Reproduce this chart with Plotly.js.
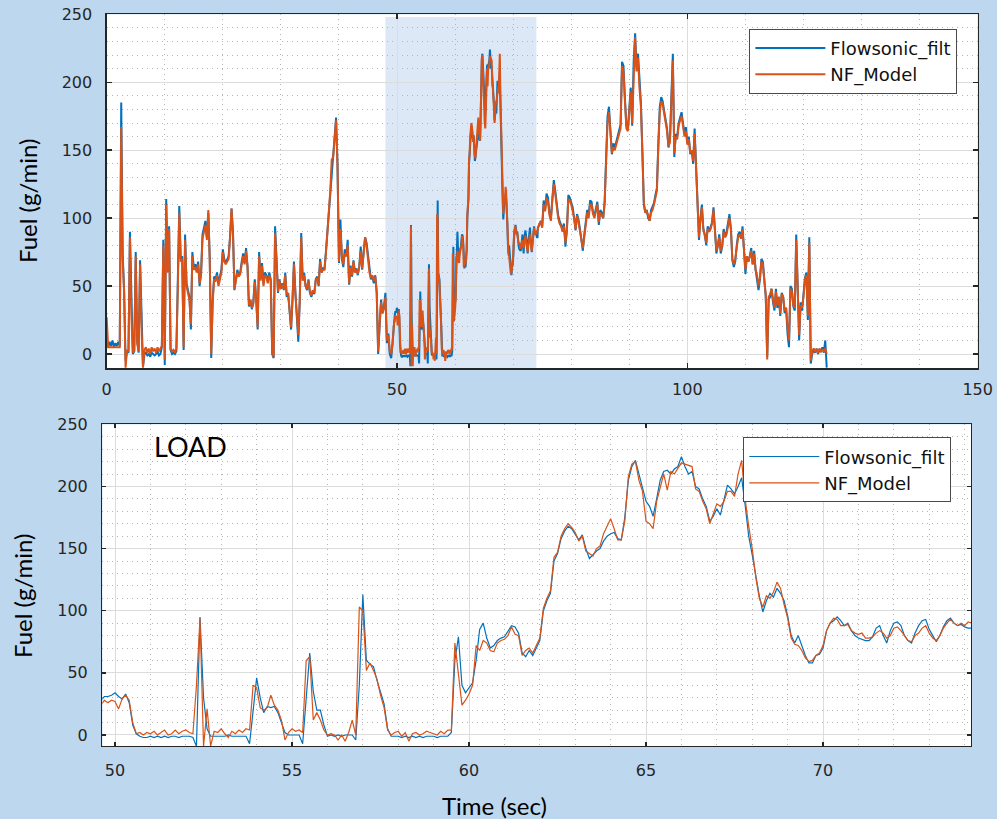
<!DOCTYPE html>
<html>
<head>
<meta charset="utf-8">
<script src="https://cdn.plot.ly/plotly-3.0.1.min.js"></script>
<style>
  html, body { margin: 0; padding: 0; background: #BDD7EE; }
  #chart { width: 997px; height: 819px; }
</style>
</head>
<body>
<div id="chart"></div>
<script>
// Sample clock of each recorded segment (seconds)
const earlyStart = 0, earlyStep = 0.25;
const loadStart = 49.6, loadStep = 0.1;
const lateStart = 74.25, lateStep = 0.25;

// Fuel flow from the Flowsonic meter (filtered), g/min
const flowEarly = [
  8, 5, 9, 6,  10, 5, 8, 6,  9, 6, 185, 74,  47, -5, 2, 1,  90, 30, 0, 2,
  75, 10, 1, 69,  20, -9, 0, 1,  -1, 0, -2, 1,  0, -1, 0, 2,  -1, 0, 5, 84,
  -8, 114, 62, 94,  3, 0, 1, 0,  2, 50, 109, 70,  72, 3, 88, 52,  47, 42, 18, 75,
  64, 66, 62, 68,  50, 60, 88, 92,  98, 86, 104, 70,  -3, 40, 57, 55,  60, 52, 57, 62,
  77, 70, 67, 69,  72, 87, 107, 90,  47, 55, 62, 58,  60, 68, 74, 67,  78, 65, 35, 40,
  33, 38, 55, 40,  18, 75, 55, 67,  52, 60, 58, 53,  60, 55, 0, -3,  94, 70, 45, 55,
  48, 52, 47, 60,  42, 45, 30, 18,  40, 68, 45, 30,  9, 40, 89, 55,  60, 50, 47, 55,
  45, 42, 47, 44,  55, 57, 50, 70,  60, 63, 62, 75,  89, 110, 118, 138,  145, 160, 174, 140,
  67, 99, 70, 64,  77, 72, 84, 51,  65, 57, 69, 60,  63, 58, 65, 79,  62, 75, 86, 82,
  72, 60, 55, 57,  52, 58, 45, 0,  20, 40, 30, 35,  45, 8, 15, 0,  -3, 10, 28
];
const flowLoad = [
  28, 31, 31, 32, 34, 31, 29, 33, 26, 8,
  1, -1, -2, -2, -1, -2, -1, -2, -1, -2,
  -1, -1, -2, -1, -1, -1, -2, -9, 95, 30,
  5, -1, -1, -1, -1, -1, 0, -1, -1, -1,
  -1, -1, -7, 20, 46, 30, 18, 23, 22, 23,
  18, 10, 2, 0, 0, 0, 0, -7, 30, 66,
  35, 20, 20, 8, -1, 0, -1, 0, -1, 0,
  0, 0, -4, 40, 113, 60, 57, 55, 44, 34,
  25, 5, -1, -1, -1, -2, -1, -2, -1, -2,
  -1, -2, -1, -1, -1, -2, -1, -1, -1, 2,
  60, 79, 40, 34, 38, 42, 60, 85, 90, 78,
  70, 72, 76, 78, 79, 84, 88, 87, 82, 66,
  63, 68, 64, 70, 76, 100, 108, 114, 140, 146,
  158, 164, 168, 166, 162, 157, 161, 150, 142, 145,
  148, 150, 156, 160, 162, 163, 158, 157, 175, 205,
  216, 221, 210, 200, 188, 184, 176, 190, 205, 212,
  213, 210, 214, 216, 224, 216, 210, 212, 200, 198,
  190, 184, 172, 176, 182, 177, 190, 201, 198, 194,
  200, 207, 185, 160, 145, 128, 112, 99, 108, 114,
  111, 118, 114, 108, 96, 80, 74, 80, 72, 64,
  58, 58, 64, 65, 70, 84, 90, 92, 95, 92,
  88, 90, 84, 80, 78, 77, 76, 76, 79, 86,
  88, 80, 74, 84, 90, 91, 88, 80, 76, 74,
  82, 88, 92, 93, 85, 80, 75, 80, 87, 92,
  94, 90, 88, 89, 87, 86, 86
];
const flowLate = [
  93, 95, 98, 94,  113, 106, 118, 115,  104, 100, 116, 128,  120, 110, 102, 98,  95, 92, 96, 79,
  92, 117, 115, 112,  108, 100, 91, 103,  99, 92, 84, 76,  88, 99, 106, 102,  113, 112, 104, 102,
  108, 112, 95, 106,  104, 100, 112, 150,  175, 182, 166, 147,  155, 152, 156, 161,  165, 169, 215, 212,
  188, 168, 165, 182,  196, 168, 215, 236,  210, 221, 198, 185,  150, 110, 104, 106,  100, 98, 106, 108,
  111, 117, 122, 155,  182, 189, 186, 179,  172, 166, 152, 158,  190, 221, 145, 162,  160, 170, 174, 178,
  170, 162, 167, 155,  160, 147, 150, 140,  166, 140, 103, 84,  100, 110, 92, 88,  80, 94, 90, 94,
  97, 108, 86, 74,  80, 88, 74, 79,  92, 86, 90, 96,  103, 92, 69, 64,  68, 80, 88, 90,
  85, 94, 80, 59,  72, 68, 72, 78,  66, 76, 62, 56,  47, 55, 70, 68,  52, 42, -2, 40,
  42, 48, 38, 32,  48, 34, 42, 28,  45, 42, 30, 34,  15, 5, 50, 48,  35, 32, 88, 45,
  10, 38, 32, 44,  56, 60, 25, 86,  -7, 0, 3, 1,  4, 0, 3, 2,  5, 1, 10, -10
];

// Fuel flow predicted by the NF model, g/min
const modelEarly = [
  27, 5, 5, 5,  5, 5, 5, 5,  5, 5, 167, 70,  45, -10, 3, 2,  86, 28, 1, 3,
  72, 8, 2, 66,  18, -10, 3, 5,  1, 4, 0, 5,  2, 4, 1, 5,  2, 4, 6, 80,
  -4, 110, 60, 92,  4, 2, 3, 1,  4, 48, 104, 68,  70, 5, 84, 50,  45, 40, 22, 72,
  62, 64, 60, 66,  52, 58, 85, 90,  95, 84, 106, 68,  0, 38, 55, 54,  58, 50, 56, 60,
  75, 68, 66, 68,  70, 86, 107, 88,  48, 54, 60, 57,  59, 66, 72, 66,  76, 64, 36, 40,
  34, 37, 53, 40,  20, 72, 54, 65,  50, 58, 57, 52,  58, 54, 2, -2,  89, 68, 46, 54,
  48, 51, 48, 58,  44, 44, 32, 20,  40, 66, 44, 32,  14, 40, 86, 54,  58, 50, 48, 54,
  46, 43, 47, 45,  54, 56, 51, 68,  60, 62, 62, 74,  88, 108, 120, 143,  145, 158, 172, 138,
  68, 92, 72, 66,  74, 72, 80, 52,  64, 58, 68, 60,  62, 59, 64, 76,  63, 74, 86, 80,
  70, 60, 56, 58,  54, 57, 46, 2,  22, 38, 30, 34,  42, 10, 14, 2,  0, 8, 24
];
const modelLoad = [
  24, 28, 26, 28, 27, 21, 29, 32, 28, 10,
  1, 2, 0, 2, 1, 3, 0, 2, 4, 0,
  1, 4, 1, 3, 4, 2, 1, 40, 94, -9,
  21, -9, 3, 2, 5, 1, -2, 3, 1, 4,
  2, 5, 4, 40, 38, 22, 20, 22, 32, 24,
  20, 12, -4, 2, 5, 3, 4, 2, 60, 63,
  12, 18, 12, 4, 0, 1, 0, -4, 0, -5,
  2, 12, 0, 103, 100, 52, 58, 52, 45, 32,
  22, 4, 0, 2, 3, -1, 2, -5, 1, 2,
  0, 1, 3, 2, 1, 0, 3, 1, 4, 4,
  74, 50, 24, 28, 33, 40, 72, 68, 76, 74,
  68, 67, 74, 76, 77, 80, 87, 81, 80, 64,
  68, 70, 66, 72, 78, 102, 110, 116, 143, 147,
  160, 166, 170, 167, 163, 156, 160, 148, 146, 144,
  150, 152, 162, 168, 174, 166, 157, 157, 172, 208,
  218, 220, 205, 196, 172, 170, 166, 188, 200, 210,
  197, 212, 210, 214, 219, 218, 217, 216, 198, 196,
  188, 182, 170, 178, 186, 184, 188, 196, 196, 192,
  210, 221, 190, 168, 150, 127, 110, 103, 112, 110,
  115, 123, 118, 105, 94, 78, 73, 72, 68, 62,
  59, 60, 64, 66, 72, 84, 90, 94, 93, 88,
  88, 89, 84, 82, 81, 82, 78, 78, 79, 82,
  84, 82, 78, 80, 86, 87, 84, 80, 76, 75,
  80, 82, 86, 88, 82, 78, 76, 80, 86, 90,
  93, 90, 88, 90, 88, 91, 90
];
const modelLate = [
  92, 96, 97, 93,  110, 105, 115, 112,  102, 98, 114, 125,  118, 108, 100, 96,  94, 90, 94, 82,
  90, 114, 113, 110,  106, 100, 92, 102,  97, 90, 86, 78,  86, 97, 104, 100,  110, 110, 103, 100,
  106, 110, 97, 104,  102, 100, 110, 145,  170, 178, 163, 148,  152, 150, 154, 158,  163, 166, 212, 208,
  186, 166, 164, 180,  193, 170, 212, 233,  208, 218, 196, 182,  148, 112, 104, 105,  102, 98, 104, 106,
  110, 115, 120, 152,  178, 186, 184, 177,  170, 164, 153, 156,  186, 216, 148, 160,  158, 168, 172, 175,
  168, 160, 164, 154,  158, 148, 150, 142,  162, 138, 104, 86,  98, 108, 92, 88,  82, 92, 90, 92,
  96, 106, 88, 76,  80, 86, 76, 80,  90, 86, 88, 94,  100, 92, 70, 66,  70, 78, 86, 88,
  85, 92, 80, 62,  72, 68, 72, 76,  66, 74, 62, 58,  50, 56, 68, 66,  54, 44, -4, 42,
  44, 48, 40, 34,  46, 36, 42, 30,  44, 42, 32, 34,  20, 10, 48, 46,  36, 34, 84, 46,
  14, 36, 34, 42,  55, 58, 28, 82,  -5, 2, 4, 2,  3, 1, 4, 2,  3, 2, 4, 0
];

// Time window (s) shaded in the upper panel and expanded in the lower one
const loadWindow = [48, 74];
const seriesNames = ['Flowsonic_filt', 'NF_Model'];

function clock(start, step, n) {
  return Array.from({ length: n }, (_, i) => Math.round((start + i * step) * 100) / 100);
}

const time = [
  ...clock(earlyStart, earlyStep, flowEarly.length),
  ...clock(loadStart, loadStep, flowLoad.length),
  ...clock(lateStart, lateStep, flowLate.length)
];
const flow = [...flowEarly, ...flowLoad, ...flowLate];
const model = [...modelEarly, ...modelLoad, ...modelLate];

const BLUE = '#0072BD';
const ORANGE = '#D95319';
const INK = '#262626';
const tickFont = { family: 'DejaVu Sans, Liberation Sans, sans-serif', size: 16, color: INK };

function minorGrid(step) {
  return { dtick: step, showgrid: true, griddash: '1px,4px', gridcolor: '#b4b4b4', gridwidth: 1, ticks: '' };
}

function axisStyle(extra) {
  return Object.assign({
    showline: true, linecolor: INK, linewidth: 1.3, mirror: 'ticks',
    ticks: 'inside', ticklen: 5, tickwidth: 1.4, tickcolor: INK,
    showgrid: true, gridcolor: '#dcdcdc', gridwidth: 1,
    zeroline: false, tickfont: tickFont, fixedrange: true
  }, extra);
}

const traces = [
  { x: time, y: flow, xaxis: 'x', yaxis: 'y', name: seriesNames[0], legend: 'legend',
    mode: 'lines', line: { color: BLUE, width: 2 } },
  { x: time, y: model, xaxis: 'x', yaxis: 'y', name: seriesNames[1], legend: 'legend',
    mode: 'lines', line: { color: ORANGE, width: 2 } },
  { x: time, y: flow, xaxis: 'x2', yaxis: 'y2', name: seriesNames[0], legend: 'legend2',
    mode: 'lines', line: { color: BLUE, width: 1.2 } },
  { x: time, y: model, xaxis: 'x2', yaxis: 'y2', name: seriesNames[1], legend: 'legend2',
    mode: 'lines', line: { color: ORANGE, width: 1.2 } }
];

const legendStyle = {
  bgcolor: '#ffffff', bordercolor: '#4a4a4a', borderwidth: 1,
  font: { family: 'DejaVu Sans, Liberation Sans, sans-serif', size: 18, color: '#111' },
  xanchor: 'left', yanchor: 'top', itemwidth: 70, tracegroupgap: 0
};

const layout = {
  width: 997, height: 819,
  paper_bgcolor: '#BDD7EE', plot_bgcolor: '#ffffff',
  margin: { l: 0, r: 0, t: 0, b: 0 },
  showlegend: true,
  xaxis: axisStyle({ domain: [0.10702, 0.98064], anchor: 'y', range: [0, 150],
    tick0: 0, dtick: 50, ticklabelstandoff: 6, minor: minorGrid(10) }),
  yaxis: axisStyle({ domain: [0.55031, 0.98254], anchor: 'x', range: [-10.5, 250],
    tick0: 0, dtick: 50, ticklabelstandoff: 10, minor: minorGrid(10) }),
  xaxis2: axisStyle({ domain: [0.10261, 0.97392], anchor: 'y2', range: [49.64, 74.18],
    tick0: 0, dtick: 5, ticklen: 4, ticklabelstandoff: 9, minor: minorGrid(1) }),
  yaxis2: axisStyle({ domain: [0.08913, 0.48193], anchor: 'x2', range: [-8.85, 250],
    tick0: 0, dtick: 50, ticklen: 4, ticklabelstandoff: 10, minor: minorGrid(10) }),
  legend: Object.assign({ x: 0.7516, y: 0.96496 }, legendStyle),
  legend2: Object.assign({ x: 0.7455, y: 0.46606 }, legendStyle),
  shapes: [{
    type: 'rect', xref: 'x', yref: 'y', layer: 'below',
    x0: loadWindow[0], x1: loadWindow[1], y0: -10.5, y1: 248,
    fillcolor: '#DCE8F5', line: { width: 0 }
  }],
  annotations: [
    { text: 'Fuel (g/min)', xref: 'paper', yref: 'paper', x: 27 / 997, y: 1 - 201 / 819,
      xanchor: 'center', yanchor: 'middle', textangle: -90, showarrow: false,
      font: { family: 'Lato, Open Sans, sans-serif', size: 24, color: '#000' } },
    { text: 'Fuel (g/min)', xref: 'paper', yref: 'paper', x: 22 / 997, y: 1 - 596 / 819,
      xanchor: 'center', yanchor: 'middle', textangle: -90, showarrow: false,
      font: { family: 'Lato, Open Sans, sans-serif', size: 24, color: '#000' } },
    { text: 'Time (sec)', xref: 'paper', yref: 'paper', x: 494 / 997, y: 1 - 805 / 819,
      xanchor: 'center', yanchor: 'middle', showarrow: false,
      font: { family: 'Lato, Open Sans, sans-serif', size: 24, color: '#000' } },
    { text: 'LOAD', xref: 'paper', yref: 'paper', x: 152 / 997, y: 1 - 447 / 819,
      xanchor: 'left', yanchor: 'middle', showarrow: false,
      font: { family: 'Lato, Open Sans, sans-serif', size: 27, color: '#000' } }
  ]
};

Plotly.newPlot('chart', traces, layout, { staticPlot: true, displayModeBar: false });
</script>
</body>
</html>
